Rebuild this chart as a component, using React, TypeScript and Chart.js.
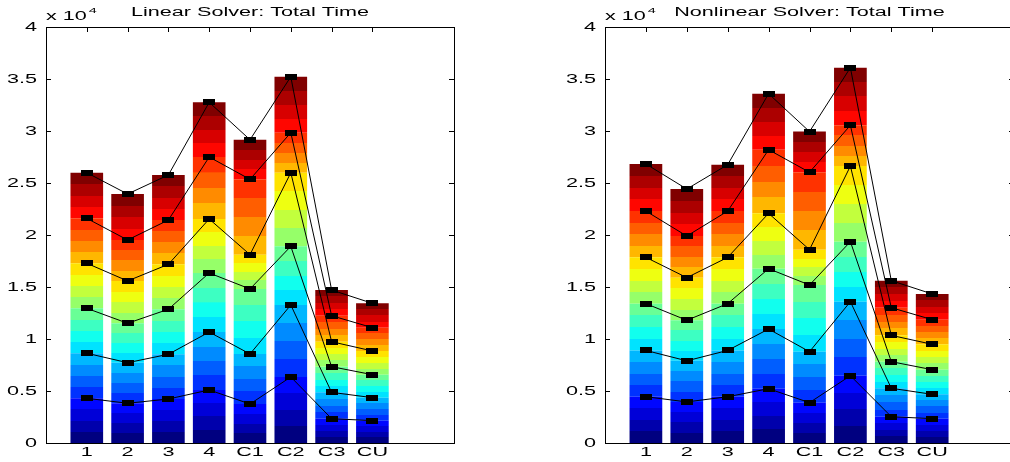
import React, { useEffect, useRef } from 'react';
import { Chart, registerables } from 'chart.js';

Chart.register(...registerables);

// ---------- data (values in units of 10^4) ----------
const categories = ['1', '2', '3', '4', 'C1', 'C2', 'C3', 'CU'];
const yTickValues = [0, 0.5, 1, 1.5, 2, 2.5, 3, 3.5, 4];
const yTickLabels = ['0', '0.5', '1', '1.5', '2', '2.5', '3', '3.5', '4'];

const linearTitle = 'Linear Solver: Total Time';
const linearL1 = [0.430, 0.382, 0.423, 0.510, 0.375, 0.635, 0.234, 0.215];
const linearL2 = [0.863, 0.772, 0.853, 1.067, 0.856, 1.327, 0.487, 0.436];
const linearL3 = [1.295, 1.151, 1.286, 1.635, 1.481, 1.891, 0.734, 0.657];
const linearL4 = [1.728, 1.558, 1.718, 2.154, 1.811, 2.599, 0.974, 0.885];
const linearL5 = [2.160, 1.952, 2.144, 2.750, 2.535, 2.984, 1.224, 1.109];
const linearL6 = [2.599, 2.394, 2.577, 3.276, 2.916, 3.522, 1.471, 1.343];

const nonlinearTitle = 'Nonlinear Solver: Total Time';
const nonlinearL1 = [0.445, 0.395, 0.445, 0.522, 0.388, 0.647, 0.253, 0.234];
const nonlinearL2 = [0.890, 0.790, 0.890, 1.096, 0.878, 1.359, 0.526, 0.468];
const nonlinearL3 = [1.340, 1.180, 1.340, 1.676, 1.519, 1.936, 0.782, 0.705];
const nonlinearL4 = [1.785, 1.590, 1.785, 2.208, 1.859, 2.663, 1.035, 0.949];
const nonlinearL5 = [2.230, 1.990, 2.230, 2.820, 2.603, 3.055, 1.301, 1.186];
const nonlinearL6 = [2.683, 2.442, 2.676, 3.359, 2.994, 3.609, 1.561, 1.433];

// ---------- styling ----------
const SX = 1.8; // horizontal text stretch seen in the reference
const FONT = '12px "Liberation Sans", Arial, sans-serif';
const SUP_FONT = '8px "Liberation Sans", Arial, sans-serif';
const BANDS_PER_LEVEL = 4;
const TOTAL_BANDS = 24;

function jet(t: number): string {
  const c = (v: number) => Math.max(0, Math.min(1, v));
  const r = c(1.5 - Math.abs(4 * t - 3));
  const g = c(1.5 - Math.abs(4 * t - 2));
  const b = c(1.5 - Math.abs(4 * t - 1));
  return `rgb(${Math.round(r * 255)},${Math.round(g * 255)},${Math.round(b * 255)})`;
}

function drawText(ctx: CanvasRenderingContext2D, txt: string, x: number, y: number, align: string, font: string) {
  ctx.save();
  ctx.font = font;
  ctx.textBaseline = 'middle';
  ctx.textAlign = 'left';
  const w = ctx.measureText(txt).width * SX;
  const x0 = align === 'left' ? x : align === 'center' ? x - w / 2 : x - w;
  ctx.translate(x0, y);
  ctx.scale(SX, 1);
  ctx.fillStyle = '#000';
  ctx.fillText(txt, 0, 0);
  ctx.restore();
  return w;
}

function makeMarker(): HTMLCanvasElement {
  const c = document.createElement('canvas');
  c.width = 12;
  c.height = 6;
  const g = c.getContext('2d')!;
  g.fillStyle = '#000';
  g.fillRect(0, 0, 12, 6);
  return c;
}

const axesPlugin = {
  id: 'matlabAxes',
  beforeDatasetsDraw(chart: any) {
    const ctx = chart.ctx as CanvasRenderingContext2D;
    const { left, right, top, bottom } = chart.chartArea;
    const xs = chart.scales.x;
    const ys = chart.scales.y;
    ctx.save();
    ctx.strokeStyle = '#000';
    ctx.lineWidth = 1;
    ctx.beginPath();
    yTickValues.forEach((v) => {
      const py = Math.round(ys.getPixelForValue(v)) + 0.5;
      ctx.moveTo(left, py);
      ctx.lineTo(left + 5, py);
      ctx.moveTo(right, py);
      ctx.lineTo(right - 5, py);
    });
    categories.forEach((_, i) => {
      const px = Math.round(xs.getPixelForValue(i + 1)) + 0.5;
      ctx.moveTo(px, top);
      ctx.lineTo(px, top + 5);
      ctx.moveTo(px, bottom);
      ctx.lineTo(px, bottom - 5);
    });
    ctx.stroke();
    ctx.restore();
  },
  afterDraw(chart: any) {
    const ctx = chart.ctx as CanvasRenderingContext2D;
    const { left, right, top, bottom } = chart.chartArea;
    const xs = chart.scales.x;
    const ys = chart.scales.y;
    const title = chart.options.plugins.matlabAxes.title;
    ctx.save();
    ctx.strokeStyle = '#000';
    ctx.lineWidth = 1;
    ctx.strokeRect(Math.round(left) + 0.5, Math.round(top) + 0.5, Math.round(right - left), Math.round(bottom - top));
    ctx.restore();
    yTickValues.forEach((v, i) => {
      drawText(ctx, yTickLabels[i], left - 9, ys.getPixelForValue(v) + 1, 'right', FONT);
    });
    categories.forEach((c, i) => {
      drawText(ctx, c, xs.getPixelForValue(i + 1), bottom + 10, 'center', FONT);
    });
    drawText(ctx, title, (left + right) / 2, 13, 'center', FONT);
    const w = drawText(ctx, 'x 10', left, 17, 'left', FONT);
    drawText(ctx, '4', left + w + 2, 11, 'left', SUP_FONT);
  },
};

function buildConfig(title: string, levels: number[][], marker: HTMLCanvasElement, padLeft: number, padRight: number) {
  const barSets = levels.map((lv, k) => ({
    type: 'bar' as const,
    order: 2,
    data: lv.map((v, i) => ({ x: i + 1, y: [k === 0 ? 0 : levels[k - 1][i], v] })),
    borderWidth: 0,
    backgroundColor: (c: any) => {
      const fallback = jet((k * BANDS_PER_LEVEL) / (TOTAL_BANDS - 1));
      if (c.type !== 'data') return fallback;
      const chart = c.chart;
      const ys = chart.scales && chart.scales.y;
      if (!ys || !chart.ctx) return fallback;
      const i = c.dataIndex;
      const s = k === 0 ? 0 : levels[k - 1][i];
      const e = levels[k][i];
      const pb = ys.getPixelForValue(s);
      const pt = ys.getPixelForValue(e);
      if (!isFinite(pb) || !isFinite(pt) || pb === pt) return fallback;
      const g = chart.ctx.createLinearGradient(0, pb, 0, pt);
      for (let j = 0; j < BANDS_PER_LEVEL; j++) {
        const col = jet((k * BANDS_PER_LEVEL + j) / (TOTAL_BANDS - 1));
        g.addColorStop(j / BANDS_PER_LEVEL, col);
        g.addColorStop((j + 1) / BANDS_PER_LEVEL - 0.0001, col);
      }
      return g;
    },
  }));
  const lineSets = levels.map((lv) => ({
    type: 'line' as const,
    order: 1,
    data: lv.map((v, i) => ({ x: i + 1, y: v })),
    borderColor: '#000',
    borderWidth: 1,
    pointStyle: marker,
    pointRadius: 6,
    pointBackgroundColor: '#000',
    fill: false,
    tension: 0,
  }));
  return {
    type: 'bar' as const,
    data: { datasets: [...lineSets, ...barSets] as any[] },
    options: {
      responsive: false,
      animation: false as const,
      events: [] as any[],
      layout: { padding: { left: padLeft, right: padRight, top: 27, bottom: 19 } },
      datasets: { bar: { grouped: false, barPercentage: 0.8, categoryPercentage: 1 } },
      plugins: {
        legend: { display: false },
        tooltip: { enabled: false },
        title: { display: false },
        matlabAxes: { title },
      },
      scales: {
        x: { type: 'linear' as const, min: 0, max: 10, offset: false, display: false },
        y: { type: 'linear' as const, min: 0, max: 4, display: false },
      },
    },
    plugins: [axesPlugin],
  };
}

export default function App() {
  const leftRef = useRef<HTMLCanvasElement>(null);
  const rightRef = useRef<HTMLCanvasElement>(null);

  useEffect(() => {
    const marker = makeMarker();
    const c1 = new Chart(
      leftRef.current!,
      buildConfig(linearTitle, [linearL1, linearL2, linearL3, linearL4, linearL5, linearL6], marker, 46, 16) as any
    );
    const c2 = new Chart(
      rightRef.current!,
      buildConfig(nonlinearTitle, [nonlinearL1, nonlinearL2, nonlinearL3, nonlinearL4, nonlinearL5, nonlinearL6], marker, 46, 17) as any
    );
    return () => {
      c1.destroy();
      c2.destroy();
    };
  }, []);

  return (
    <div style={{ position: 'fixed', left: 0, top: 0, width: 1010, height: 462, overflow: 'hidden', background: '#fff' }}>
      <canvas ref={leftRef} width={470} height={462} style={{ position: 'absolute', left: 0, top: 0, width: 470, height: 462 }} />
      <canvas ref={rightRef} width={472} height={462} style={{ position: 'absolute', left: 559, top: 0, width: 472, height: 462 }} />
    </div>
  );
}
